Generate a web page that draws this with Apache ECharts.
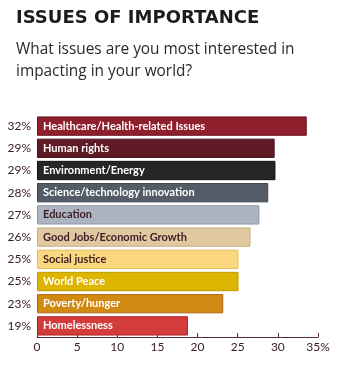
<!DOCTYPE html>
<html><head><meta charset="utf-8">
<script src="https://cdn.jsdelivr.net/npm/echarts@6/dist/echarts.min.js"></script>
<style>html,body{margin:0;padding:0;background:#fff}#c{width:340px;height:365px}</style>
</head><body><div id="c"></div>
<script>
const categories = ["Healthcare/Health-related Issues","Human rights","Environment/Energy","Science/technology innovation","Education","Good Jobs/Economic Growth","Social justice","World Peace","Poverty/hunger","Homelessness"];
const barValues = [33.6, 29.6, 29.7, 28.8, 27.7, 26.6, 25.1, 25.1, 23.2, 18.8];
const pctLabels = ["32%","29%","29%","28%","27%","26%","25%","25%","23%","19%"];
const xTicks = ["0","5","10","15","20","25","30","35%"];
const fills = ["#8e1f2c","#5e1b26","#262626","#545d67","#adb4c1","#e0c9a0","#fbd77d","#ddb400","#d08a14","#d43b3b"];
const borders = ["#6e1220","#45111a","#111111","#3d444c","#8f96a3","#c9ae82","#e4bd5c","#c09a00","#ad6c0c","#b02323"];
const textColors = ["#fff","#fff","#fff","#fff","#3d1e26","#3d1e26","#3d1e26","#fff","#fff","#fff"];

const chart = echarts.init(document.getElementById('c'), null, {renderer:'canvas'});
chart.setOption({
  animation:false,
  title:[
    {text:"ISSUES OF IMPORTANCE", left:11, top:4, textStyle:{fontFamily:"DejaVu Sans", fontWeight:'bold', fontSize:18, color:"#1c1c1c"}},
    {text:"What issues are you most interested in\nimpacting in your world?", left:11, top:34, textStyle:{fontFamily:"Open Sans", fontWeight:'normal', fontSize:15.4, lineHeight:22, color:"#2a2a2a"}}
  ],
  grid:{left:37, right:22, top:115, bottom:28, containLabel:false},
  xAxis:{type:'value', min:0, max:35, interval:5,
    axisLine:{show:true, lineStyle:{color:'#5a2a35', width:1}},
    axisTick:{show:true, inside:true, length:4, lineStyle:{color:'#5a2a35'}},
    splitLine:{show:false},
    axisLabel:{color:'#3d2028', fontSize:12, fontFamily:'Lato', margin:4,
      formatter:(v)=>xTicks[Math.round(v/5)]}
  },
  yAxis:{type:'category', inverse:true, data:categories,
    axisLine:{show:false}, axisTick:{show:false},
    axisLabel:{color:'#3d2028', fontSize:12, fontFamily:'Lato', margin:6,
      formatter:(v, i)=>pctLabels[i]}
  },
  series:[{type:'bar', barCategoryGap:'13%',
    data: barValues.map((v,i)=>({value:v, itemStyle:{color:fills[i], borderColor:borders[i], borderWidth:1},
      label:{color:textColors[i]}})),
    label:{show:true, position:'insideLeft', distance:6, fontFamily:'Lato', fontWeight:'bold', fontSize:11,
      formatter:(p)=>categories[p.dataIndex]}
  }]
});
</script></body></html>
